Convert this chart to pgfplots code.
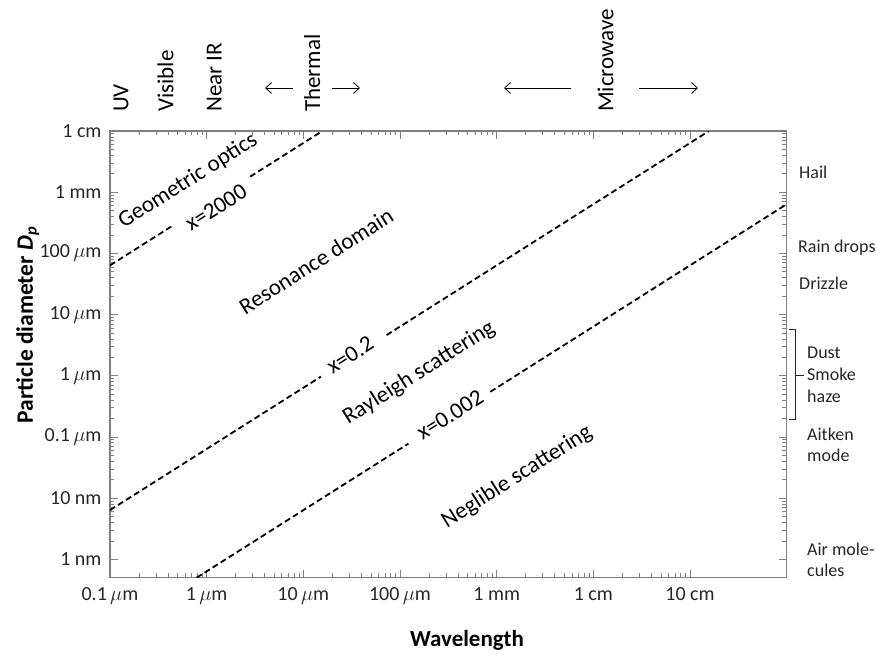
\documentclass[border=0pt]{standalone}
\usepackage{pgfplots}
\pgfplotsset{compat=1.18}
\usepackage{fontspec}
\setmainfont{Carlito}
\usetikzlibrary{arrows.meta}
\begin{document}
\begin{tikzpicture}
\useasboundingbox (-110bp,-79.3bp) rectangle (767bp,577.7bp);
\begin{axis}[
  at={(0,0)}, anchor=south west,
  scale only axis, width=676.7bp, height=446.7bp,
  xmode=log, ymode=log,
  xmin=1e-7, xmax=1, ymin=5.012e-10, ymax=1e-2,
  axis line style={draw=gray, line width=1.2bp},
  every tick/.style={draw=gray, line width=0.8bp},
  major tick length=8bp, minor tick length=4.5bp,
  tick align=inside,
  xtick={1e-7,1e-6,1e-5,1e-4,1e-3,1e-2,1e-1},
  xticklabels={0.1\,$\mu$m, 1\,$\mu$m, 10\,$\mu$m, 100\,$\mu$m, 1 mm, 1 cm, 10 cm},
  ytick={1e-9,1e-8,1e-7,1e-6,1e-5,1e-4,1e-3,1e-2},
  yticklabels={1 nm, 10 nm, 0.1\,$\mu$m, 1\,$\mu$m, 10\,$\mu$m, 100\,$\mu$m, 1 mm, 1 cm},
  ticklabel style={font=\fontsize{20bp}{24bp}\selectfont, text=black!85},
  xticklabel style={yshift=-6bp},
  yticklabel style={xshift=-5bp},
]
% x = 2000
\addplot[black, line width=1.8bp, dash pattern=on 6bp off 3.5bp] coordinates {(1e-7,6.366e-5) (4.37e-7,2.782e-4)};
\addplot[black, line width=1.8bp, dash pattern=on 6bp off 3.5bp] coordinates {(2.82e-6,1.795e-3) (1.5708e-5,1e-2)};
% x = 0.2
\addplot[black, line width=1.8bp, dash pattern=on 6bp off 3.5bp] coordinates {(1e-7,6.366e-9) (1.52e-5,9.68e-7)};
\addplot[black, line width=1.8bp, dash pattern=on 6bp off 3.5bp] coordinates {(7.26e-5,4.62e-6) (0.15708,1e-2)};
% x = 0.002
\addplot[black, line width=1.8bp, dash pattern=on 6bp off 3.5bp] coordinates {(7.873e-7,5.012e-10) (1.222e-4,7.78e-8)};
\addplot[black, line width=1.8bp, dash pattern=on 6bp off 3.5bp] coordinates {(8.61e-4,5.48e-7) (1,6.366e-4)};
\end{axis}
\begin{scope}[x=1bp, y=-1bp, shift={(-110,-577.7)}]
  % in-axis region labels
  \begin{scope}[every node/.style={rotate=32.3, font=\fontsize{23bp}{27bp}\selectfont, inner sep=0pt}]
    \node at (188,181) {Geometric optics};
    \node at (216,207.5) {x=2000};
    \node at (316,261) {Resonance domain};
    \node at (350,355) {x=0.2};
    \node at (419,373) {Rayleigh scattering};
    \node at (450,415) {x=0.002};
    \node at (517,477) {Neglible scattering};
  \end{scope}
  % top spectral labels
  \begin{scope}[every node/.style={rotate=90, anchor=base west, font=\fontsize{23bp}{27bp}\selectfont, inner sep=0pt}]
    \node at (128.3,112) {UV};
    \node at (173.3,112) {Visible};
    \node at (221.7,112) {Near IR};
    \node at (320,112) {Thermal};
    \node at (613.3,112) {Microwave};
  \end{scope}
  \begin{scope}[line width=0.8bp, -{Straight Barb[length=6bp,width=11bp]}]
    \draw (293,88) -- (265,88);
    \draw (332,88) -- (360,88);
    \draw (571,88) -- (504,88);
    \draw (639,88) -- (698,88);
  \end{scope}
  % right labels
  \begin{scope}[every node/.style={anchor=base west, font=\fontsize{18bp}{22bp}\selectfont, inner sep=0pt, text=black!85}]
    \node at (799,178.3) {Hail};
    \node at (798,252.3) {Rain drops};
    \node at (799,289.3) {Drizzle};
    \node at (807,358.7) {Dust};
    \node at (807,380.7) {Smoke};
    \node at (807,402.7) {haze};
    \node at (807,440) {Aitken};
    \node at (807,461.7) {mode};
    \node at (807,555) {Air mole-};
    \node at (807,576) {cules};
  \end{scope}
  \draw[line width=0.9bp, black!85] (789,329.3) -- (795,329.3) -- (795,419) -- (789,419);
  \draw[line width=0.9bp, black!85] (795,375) -- (804,375);
  % axis titles
  \node[rotate=90, anchor=base, inner sep=0pt, font=\fontsize{23.5bp}{27bp}\selectfont\bfseries] at (33,325) {Particle diameter \textit{D}\textsubscript{\textit{p}}};
  \node[anchor=base, inner sep=0pt, font=\fontsize{23bp}{27bp}\selectfont\bfseries] at (467,646.7) {Wavelength};
\end{scope}
\end{tikzpicture}
\end{document}
